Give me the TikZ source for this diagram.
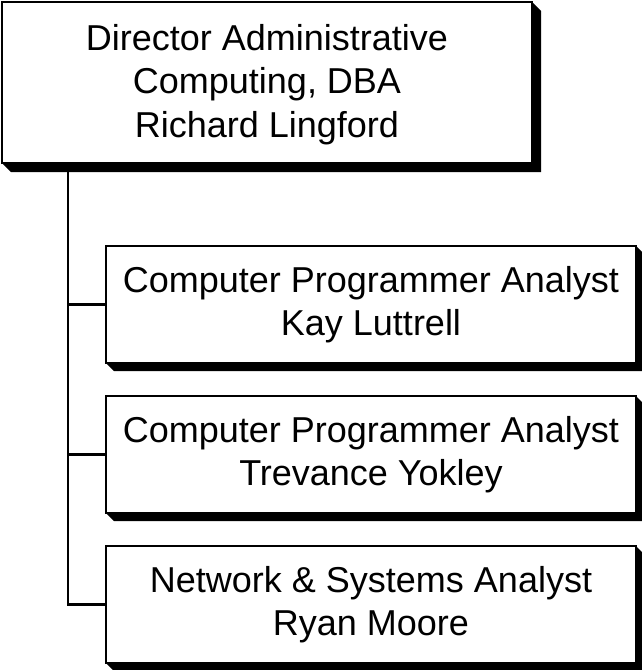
\documentclass[tikz,border=0pt]{standalone}
\usepackage{fontspec}
\setmainfont{Liberation Sans}
\begin{document}
\begin{tikzpicture}[x=1pt,y=-1pt,
  orgbox/.style={draw=black, fill=white, line width=2.8pt, outer sep=0pt, inner sep=0pt,
    align=center, font=\fontsize{36}{43.5}\selectfont},
  conn/.style={draw=black, line width=2.2pt}]
\useasboundingbox (0,0) rectangle (642,670);
% nodes
\node[orgbox, minimum width=530pt, minimum height=161pt] (dir) at (267,82.5)
  {\rule{0pt}{30pt}Director Administrative\\Computing, DBA\\Richard Lingford};
\node[orgbox, minimum width=530pt, minimum height=117pt] (c1) at (371,304.5)
  {Computer Programmer Analyst\\Kay Luttrell};
\node[orgbox, minimum width=530pt, minimum height=117pt] (c2) at (371,454.5)
  {Computer Programmer Analyst\\Trevance Yokley};
\node[orgbox, minimum width=530pt, minimum height=117pt] (c3) at (371,604.5)
  {Network \& Systems Analyst\\Ryan Moore};
% shadows
\foreach \n/\d in {dir/9,c1/8,c2/8,c3/8}{
  \fill[black] (\n.south west) -- ++(\d,\d) -- ([shift={(\d,\d)}]\n.south east)
    -- ([shift={(\d,\d)}]\n.north east) -- (\n.north east) -- (\n.south east) -- cycle;
}
% connectors
\coordinate (trunk) at ([xshift=-199pt,yshift=-8pt]dir.south);
\draw[conn] (trunk) |- (c3.west);
\draw[conn] (trunk) |- (c1.west);
\draw[conn] (trunk) |- (c2.west);
\end{tikzpicture}
\end{document}
